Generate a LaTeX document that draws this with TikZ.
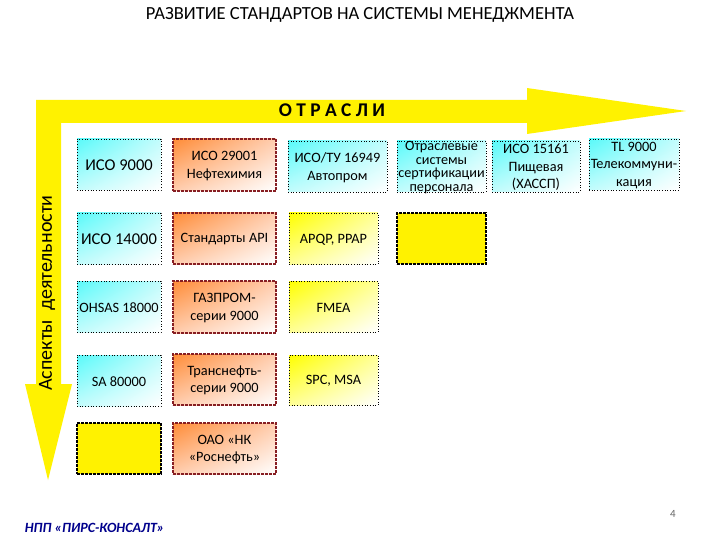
\documentclass[tikz,border=0pt]{standalone}
\usepackage{fontspec}
\usetikzlibrary{shadings}
\setmainfont{Carlito}
\definecolor{ornA}{RGB}{255,140,55}
\definecolor{ornB}{RGB}{255,205,175}
\definecolor{cyaA}{RGB}{90,250,250}
\definecolor{cyaB}{RGB}{195,252,252}
\definecolor{yelB}{RGB}{255,255,150}
\definecolor{redB}{RGB}{135,30,35}
\begin{document}
\begin{tikzpicture}[x=1pt,y=-1pt,
  base/.style={inner sep=0pt,outer sep=0pt},
  label text/.style={inner sep=0pt,outer sep=0pt,align=center,yshift=-1pt,font=\fontsize{14.3}{17.4}\selectfont,text=black},
  ]
\tikzset{
  cyanbox/.style={base,shade,upper left=cyaA,upper right=cyaB,lower left=cyaB,lower right=white,draw=black,line width=0.7pt,dotted},
  orangebox/.style={base,shade,upper left=ornA,upper right=ornB,lower left=ornB,lower right=white,draw=redB,line width=1.2pt,dash pattern=on 2.6pt off 1.4pt},
  yellowbox/.style={base,shade,upper left=yellow,upper right=yelB,lower left=yelB,lower right=white,draw=black,line width=0.7pt,dotted},
  plainbox/.style={base,fill=yellow,draw=black,line width=1.3pt,dash pattern=on 2.6pt off 1.4pt},
  bigtext/.style={font=\fontsize{16.5}{19}\selectfont},
  tighttext/.style={font=\fontsize{14.2}{13.7}\selectfont},
}
\useasboundingbox (0,0) rectangle (720,540);
\fill[white] (0,0) rectangle (720,540);
\path[fill=yellow] (36,100) -- (527,100) -- (527,88) -- (686,111) -- (527,134) -- (527,123) -- (61,123) -- (61,384) -- (72,384) -- (48,480) -- (25,384) -- (36,384) -- cycle;

\node[font=\fontsize{18.5}{20}\selectfont,text=black] (title) at (360,15) {РАЗВИТИЕ СТАНДАРТОВ НА СИСТЕМЫ МЕНЕДЖМЕНТА};
\node[font=\fontsize{19.4}{21}\selectfont\bfseries] (otr) at (332,110.5) {О Т Р А С Л И};
\node[font=\fontsize{20}{22}\selectfont,rotate=90,text=black] (asp) at (47,293) {Аспекты\ \ деятельности};

\newcommand{\bx}[8][]{\node[#3,minimum width={(#6-#4)*1pt},minimum height={(#7-#5)*1pt}] (#2) at ({(#4+#6)/2},{(#5+#7)/2}) {};
  \node[label text,#1] (#2t) at (#2.center) {#8};}
\bx[bigtext]{a1}{cyanbox}{77}{139}{161}{190}{ИСО 9000}
\bx[bigtext]{a2}{cyanbox}{77}{213}{161}{264}{ИСО 14000}
\bx{a3}{cyanbox}{77}{281}{161}{332}{OHSAS 18000}
\bx{a4}{cyanbox}{77}{355}{161}{406}{SA 80000}
\node[plainbox,minimum width=84pt,minimum height=51pt] (a5) at (119,448.5) {};

\bx{b1}{orangebox}{173}{139}{276}{191}{ИСО 29001\\Нефтехимия}
\bx{b2}{orangebox}{173}{213}{276}{264}{Стандарты API}
\bx{b3}{orangebox}{173}{281}{276}{333}{ГАЗПРОМ-\\серии 9000}
\bx{b4}{orangebox}{173}{354}{276}{405}{Транснефть-\\серии 9000}
\bx{b5}{orangebox}{173}{423}{276}{474}{ОАО «НК\\«Роснефть»}

\bx{c1}{cyanbox}{288}{141}{387}{192}{ИСО/ТУ 16949\\Автопром}
\bx{c2}{yellowbox}{289}{213}{378}{264}{APQP, PPAP}
\bx{c3}{yellowbox}{289}{281}{378}{332}{FMEA}
\bx{c4}{yellowbox}{289}{355}{378}{405}{SPC, MSA}

\bx[tighttext]{d1}{cyanbox}{397}{141}{486}{192}{Отраслевые\\системы\\сертификации\\персонала}
\node[plainbox,minimum width=89pt,minimum height=51pt] (d2) at (441.5,238.5) {};
\bx{e1}{cyanbox}{492}{141}{580}{192}{ИСО 15161\\Пищевая\\(ХАССП)}
\bx{f1}{cyanbox}{589}{139}{679}{190}{TL 9000\\Телекоммуни-\\кация}

\node[font=\fontsize{14.1}{16}\selectfont\bfseries\itshape,text=blue!55!black] (npp) at (94.5,528) {НПП «ПИРС-КОНСАЛТ»};
\node[font=\fontsize{11}{13}\selectfont,text=black!60] (pg) at (673,514) {4};
\end{tikzpicture}
\end{document}
